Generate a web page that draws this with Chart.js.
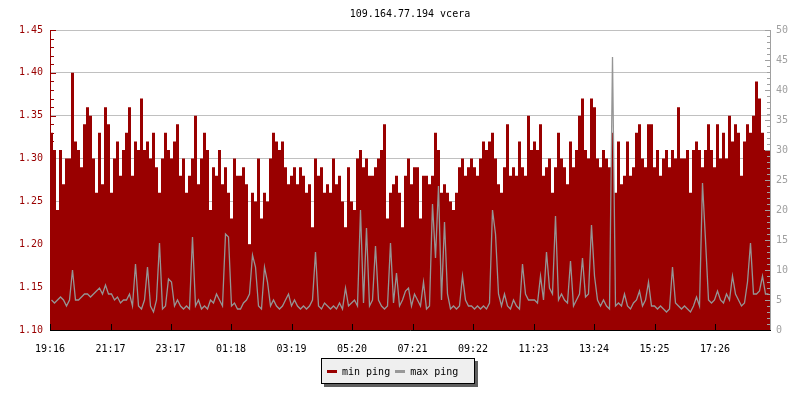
<!DOCTYPE html>
<html>
<head>
<meta charset="utf-8">
<script src="https://cdn.jsdelivr.net/npm/chart.js@4/dist/chart.umd.min.js"></script>
<style>
  body { margin: 0; background: #fff; }
  #wrap { position: relative; width: 800px; height: 400px; }
  #legend {
    position: absolute; left: 321px; top: 358px; width: 154px; height: 26px;
    box-sizing: border-box; border: 1px solid #000; background: #efefef;
    box-shadow: 3px 3px 0 #5f5f5f; display: flex; align-items: center;
    padding-left: 5px; font: 10px 'DejaVu Sans Mono', monospace; color: #000;
  }
  .sw { display: inline-block; width: 10px; height: 3px; margin-right: 5px; }
</style>
</head>
<body>
<div id="wrap">
  <canvas id="myChart"></canvas>
  <div id="legend">
    <span class="sw" style="background:#990000"></span><span>min ping</span>
    <span class="sw" style="background:#999999;margin-left:5px"></span><span>max ping</span>
  </div>
</div>
<script>
const stepMin = 6; // one sample every 6 minutes, starting 19:16

const tickMinutes = [0, 121, 241, 362, 483, 604, 725, 846, 967, 1088, 1209, 1330];
const tickLabels = ['19:16', '21:17', '23:17', '01:18', '03:19', '05:20', '07:21', '09:22', '11:23', '13:24', '15:25', '17:26'];

// min ping (left axis)
const minPing = [
  1.33,1.31,1.24,1.31,1.27,1.30,1.30,1.40,1.32,1.31, 1.29,1.34,1.36,1.35,1.30,1.26,1.33,1.27,1.36,1.34,
  1.26,1.30,1.32,1.28,1.31,1.33,1.36,1.28,1.32,1.31, 1.37,1.31,1.32,1.30,1.33,1.29,1.26,1.30,1.33,1.31,
  1.30,1.32,1.34,1.28,1.30,1.26,1.28,1.30,1.35,1.27, 1.30,1.33,1.31,1.24,1.29,1.28,1.31,1.27,1.29,1.26,
  1.23,1.30,1.28,1.28,1.29,1.27,1.20,1.26,1.25,1.30, 1.23,1.26,1.25,1.30,1.33,1.32,1.31,1.32,1.29,1.27,
  1.28,1.29,1.27,1.29,1.28,1.26,1.27,1.22,1.30,1.28, 1.29,1.26,1.27,1.26,1.30,1.27,1.28,1.25,1.22,1.29,
  1.25,1.24,1.30,1.31,1.29,1.30,1.28,1.28,1.29,1.30, 1.31,1.34,1.23,1.26,1.27,1.28,1.26,1.22,1.28,1.30,
  1.27,1.29,1.29,1.23,1.28,1.28,1.27,1.28,1.33,1.31, 1.26,1.27,1.26,1.25,1.24,1.26,1.29,1.30,1.28,1.29,
  1.30,1.29,1.28,1.30,1.32,1.31,1.32,1.33,1.30,1.27, 1.26,1.29,1.34,1.28,1.29,1.28,1.32,1.29,1.28,1.35,
  1.31,1.32,1.31,1.34,1.28,1.29,1.30,1.26,1.29,1.33, 1.30,1.29,1.27,1.32,1.29,1.31,1.35,1.37,1.31,1.30,
  1.37,1.36,1.30,1.29,1.31,1.30,1.29,1.33,1.26,1.32, 1.27,1.28,1.32,1.28,1.29,1.33,1.34,1.30,1.29,1.34,
  1.34,1.29,1.31,1.28,1.30,1.31,1.29,1.31,1.30,1.36, 1.30,1.30,1.31,1.26,1.31,1.32,1.31,1.29,1.31,1.34,
  1.31,1.29,1.34,1.30,1.33,1.30,1.35,1.32,1.34,1.33, 1.28,1.32,1.34,1.33,1.35,1.39,1.37,1.33,1.31,1.31
];

// max ping (right axis)
const maxPing = [
  5,4.5,5,5.5,5,4,5,10,5,5, 5.5,6,6,5.5,6,6.5,7,6,7.5,6,
  6,5,5.5,4.5,5,5,6,4,11,4, 3.5,5,10.5,4,3,5,14.5,3.5,4,8.5,
  8,4,5,4,3.5,4,3.5,15.5,4,5, 3.5,4,3.5,5,4.5,6,5,4,16,15.5,
  4,4.5,3.5,3.5,4.5,5,6,12.5,10.5,4, 3.5,10.5,8,4,5,4,3.5,4,5,6,
  4,5,4,3.5,4,3.5,4,5,13,4, 3.5,4.5,4,3.5,4,3.5,4.5,3.5,7,4,
  4.5,5,4,20,4.5,17,4,5,14,5, 4,3.5,4,14.5,4.5,9.5,4,5,6.5,7,
  4,6,5,4,8,3.5,4,21,12,24, 5,18,6,3.5,4,3.5,4,9,5,4,
  4,3.5,4,3.5,4,3.5,4.5,20,16,6, 4,6,4,3.5,5,4,3.5,11,6,5,
  5,5,4.5,9,5,13,7,6,19,5, 6,5,4.5,11.5,4,5,6,12,5.5,6,
  17.5,9,5,4,5,4,3.5,45.5,4,4.5, 4,6,4,3.5,4.5,5,6.5,4,5,8,
  4,4,3.5,4,3.5,3,3.5,10.5,4.5,4, 3.5,4,3.5,3,4,5.5,4,24.5,15,5,
  4.5,5,6.5,5,4.5,6,5,9,6,5, 4,4.5,8,14.5,6,6,6.5,9,6,6
];

Chart.defaults.font.family = "'DejaVu Sans Mono', monospace";
Chart.defaults.font.size = 10;

// each sample holds its value until the next one; close the last step
function toSteps(vals) {
  const pts = vals.map((v, i) => ({ x: i * stepMin, y: v }));
  pts.push({ x: vals.length * stepMin, y: vals[vals.length - 1] });
  return pts;
}

// line samples sit in the middle of their interval
function toPoints(vals) {
  return vals.map((v, i) => ({ x: i * stepMin + stepMin / 2, y: v }));
}

// axis lines and small tick marks, drawn on top like the original
const axisMarks = {
  id: 'axisMarks',
  afterDraw(chart) {
    const { ctx, chartArea: a, scales } = chart;
    const line = (x1, y1, x2, y2) => { ctx.beginPath(); ctx.moveTo(x1, y1); ctx.lineTo(x2, y2); ctx.stroke(); };
    ctx.save();
    ctx.lineWidth = 1;

    ctx.strokeStyle = '#990000';
    line(a.left + 0.5, a.top, a.left + 0.5, a.bottom);
    for (let k = 0; k <= 35; k++) {
      const y = Math.round(scales.y.getPixelForValue(1.10 + k / 100)) + 0.5;
      line(a.left, y, a.left + (k % 5 === 0 ? 6 : 4), y);
    }

    ctx.strokeStyle = '#a0a0a0';
    line(a.right + 0.5, a.top, a.right + 0.5, a.bottom);
    for (let k = 0; k <= 50; k++) {
      const y = Math.round(scales.y2.getPixelForValue(k)) + 0.5;
      line(a.right + 1, y, a.right + 1 - (k % 5 === 0 ? 6 : 4), y);
    }

    ctx.strokeStyle = '#000';
    line(a.left, a.bottom + 0.5, a.right + 1, a.bottom + 0.5);
    tickMinutes.forEach(m => {
      const x = Math.round(scales.x.getPixelForValue(m)) + 0.5;
      line(x, a.bottom, x, a.bottom - 6);
    });
    ctx.restore();
  }
};

const ctx = document.getElementById('myChart');

new Chart(ctx, {
  type: 'line',
  data: {
    datasets: [
      {
        label: 'max ping',
        data: toPoints(maxPing),
        yAxisID: 'y2',
        borderColor: '#959595',
        borderWidth: 1.3,
        tension: 0,
        pointRadius: 0,
        fill: false,
        order: 0
      },
      {
        label: 'min ping',
        data: toSteps(minPing),
        yAxisID: 'y',
        borderWidth: 0,
        borderColor: '#990000',
        backgroundColor: '#990000',
        stepped: true,
        pointRadius: 0,
        fill: 'start',
        order: 1
      }
    ]
  },
  options: {
    animation: false,
    responsive: true,
    maintainAspectRatio: false,
    layout: { padding: 0 },
    plugins: {
      legend: { display: false },
      tooltip: { enabled: false },
      title: {
        display: true,
        text: '109.164.77.194 vcera',
        color: '#000',
        fullSize: false,
        font: { size: 10, weight: 'normal' },
        padding: { top: 8, bottom: 10 }
      }
    },
    scales: {
      x: {
        type: 'linear',
        min: 0,
        max: 1440,
        grid: { display: false },
        border: { display: false },
        ticks: {
          color: '#000',
          padding: 5,
          maxRotation: 0,
          autoSkip: false,
          callback: (v, i) => tickLabels[i]
        },
        afterBuildTicks: s => { s.ticks = tickMinutes.map(v => ({ value: v })); },
        afterFit: s => { s.height = 70; }
      },
      y: {
        position: 'left',
        min: 1.10,
        max: 1.45,
        ticks: { stepSize: 0.05, color: '#990000', padding: 7, callback: v => v.toFixed(2) },
        grid: { color: '#c0c0c0', drawTicks: false },
        border: { display: false },
        afterFit: s => { s.width = 50; }
      },
      y2: {
        position: 'right',
        min: 0,
        max: 50,
        ticks: { stepSize: 5, color: '#a0a0a0', padding: 6 },
        grid: { drawOnChartArea: false, drawTicks: false },
        border: { display: false },
        afterFit: s => { s.width = 30; }
      }
    }
  },
  plugins: [axisMarks]
});
</script>
</body>
</html>
